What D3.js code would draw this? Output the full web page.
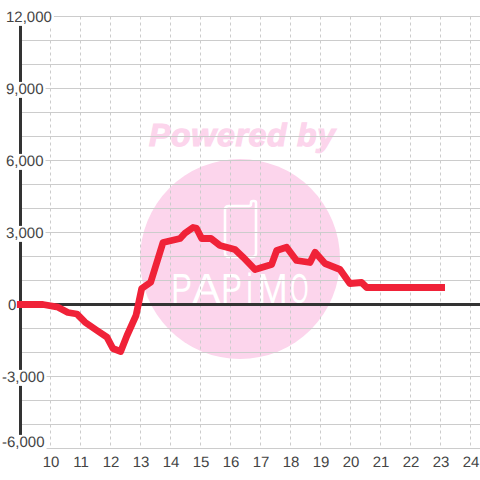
<!DOCTYPE html>
<html><head><meta charset="utf-8">
<style>html,body{margin:0;padding:0;background:#fff}svg{display:block}text{font-family:"Liberation Sans",Arial,sans-serif;text-rendering:geometricPrecision}</style>
<script src="https://cdn.jsdelivr.net/npm/d3@7/dist/d3.min.js"></script>
</head><body><svg id="c" width="480" height="480"></svg>
<script>
const hours=[8.88,9.75,10.25,10.58,10.88,11.15,11.55,11.88,12.08,12.34,12.55,12.85,13.04,13.34,13.75,14.32,14.48,14.75,14.87,15.04,15.35,15.65,16.15,16.42,16.82,17.37,17.54,17.87,18.2,18.65,18.82,19.15,19.65,19.98,20.37,20.54,23.15];
const values=[0,0,-112,-333,-396,-737,-1083,-1362,-1833,-1958,-1292,-458,667,930,2583,2750,2971,3208,3170,2750,2750,2458,2292,1971,1458,1667,2250,2388,1833,1750,2180,1708,1458,875,917,708,708];
const xTicks=[10,11,12,13,14,15,16,17,18,19,20,21,22,23,24];
const yLabelTicks=[12000,9000,6000,3000,0,-3000,-6000];
const yGridTicks=d3.range(-6000,12001,1000);
const x=d3.scaleLinear().domain([9,25]).range([20.5,500.5]);
const y=d3.scaleLinear().domain([-6000,12000]).range([448.5,16.5]);
const svg=d3.select("#c");
const pink="#fcd5ec";
// watermark
const wm=svg.append("g");
wm.append("text").attr("x",242).attr("y",146).attr("text-anchor","middle").attr("font-size",32).attr("font-weight","bold").attr("font-style","italic").attr("fill",pink).attr("stroke",pink).attr("stroke-width",1.2).attr("textLength",186).text("Powered by");
wm.append("circle").attr("cx",240).attr("cy",259).attr("r",100).attr("fill",pink);
wm.append("path").attr("d","M229 206 H249 Q251 206 251 204 V203 Q251 201 253 201 H254 Q256 201 256 203 V253 Q256 257 252 257 H229 Q225 257 225 253 V210 Q225 206 229 206 Z").attr("fill","none").attr("stroke","#fff").attr("stroke-width",2.6);
const logoLetters=["P","A","P","i","M","O"];
const logoLeft=[173,195,223,247,260,292];
const logoWidth=[17,23,17,5,25,15];
logoLetters.forEach((c,i)=>{
  const t=wm.append("text").attr("font-size",42).attr("fill","#fff").attr("y",303).text(c);
  const L=t.node().getComputedTextLength();
  const sx=logoWidth[i]/(L*0.82);
  t.attr("transform",`translate(${logoLeft[i]-L*0.09*sx},0) scale(${sx},1)`);
});
// grid
svg.append("g").selectAll("line").data(yGridTicks).join("line").attr("x1",x(9)).attr("x2",480).attr("y1",d=>y(d)).attr("y2",d=>y(d)).attr("stroke","#ccc").attr("stroke-width",1);
svg.append("g").selectAll("line").data(xTicks).join("line").attr("x1",d=>x(d)).attr("x2",d=>x(d)).attr("y1",y(12000)).attr("y2",y(-6000)).attr("stroke","#ccc").attr("stroke-width",1).attr("stroke-dasharray","3 3");
// axes
svg.append("line").attr("x1",x(9)).attr("x2",x(9)).attr("y1",y(12000)).attr("y2",y(-6000)).attr("stroke","#333").attr("stroke-width",3);
svg.append("line").attr("x1",x(9)).attr("x2",480).attr("y1",y(0)).attr("y2",y(0)).attr("stroke","#333").attr("stroke-width",3);
// y labels
const fmt=d3.format(",");
const yg=svg.append("g");
yLabelTicks.forEach(v=>{
  const cy=v===-6000?y(v)-7:y(v);
  const t=yg.append("text").attr("x",v<0?2:(v===0?8:6)).attr("y",cy).attr("dy","0.36em").attr("font-size",15).attr("fill","#444").text(fmt(v).replace("−","-"));
  const b=t.node().getBBox();
  yg.insert("rect","text").attr("x",0).attr("y",b.y+1).attr("width",b.x+b.width+2).attr("height",b.height-1).attr("fill","#fff");
});
// x labels
svg.append("g").selectAll("text").data(xTicks).join("text").attr("x",d=>x(d)+0.5).attr("y",467).attr("text-anchor","middle").attr("font-size",15).attr("fill","#444").text(d=>d);
// line
const line=d3.line().x((d,i)=>x(hours[i])).y(d=>y(d));
svg.append("path").datum(values).attr("d",line).attr("fill","none").attr("stroke","#f02238").attr("stroke-width",6.8).attr("stroke-linejoin","round");
</script></body></html>
